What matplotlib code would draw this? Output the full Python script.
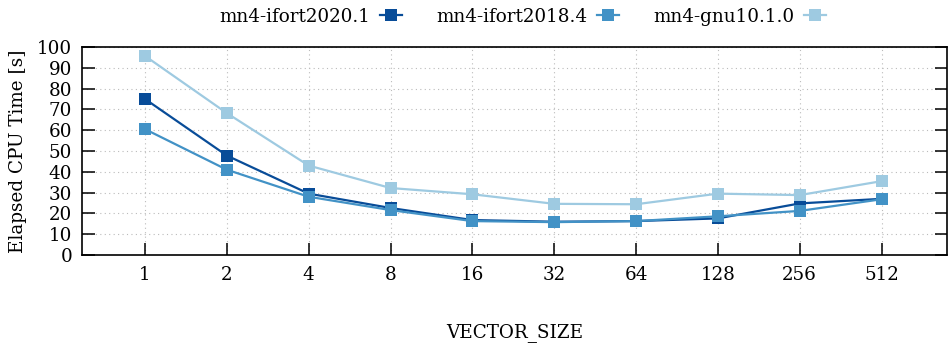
import matplotlib
matplotlib.use("Agg")
import matplotlib.pyplot as plt

vector_sizes = ["1", "2", "4", "8", "16", "32", "64", "128", "256", "512"]
ifort2020 = [75.0, 47.8, 29.5, 22.6, 16.8, 16.0, 16.3, 17.6, 24.8, 27.0]
ifort2018 = [60.5, 41.0, 28.0, 21.6, 16.3, 15.8, 16.3, 18.6, 21.2, 26.8]
gnu10 = [95.7, 68.2, 43.0, 32.2, 29.2, 24.6, 24.4, 29.5, 28.8, 35.5]

series_names = ["mn4-ifort2020.1", "mn4-ifort2018.4", "mn4-gnu10.1.0"]
colors = ["#084c98", "#4292c6", "#9ecae1"]

plt.rcParams["font.family"] = ["DejaVu Serif"]
plt.rcParams["font.size"] = 13.2

fig = plt.figure(figsize=(9.52, 3.48), dpi=100)
ax = fig.add_axes([82 / 952, 1 - 255 / 348, (947 - 82) / 952, (255 - 47) / 348])

x = list(range(len(vector_sizes)))
for vals, name, c in zip([ifort2020, ifort2018, gnu10], series_names, colors):
    ax.plot(x, vals, color=c, lw=1.6, marker="s", markersize=8.2,
            markeredgewidth=0, label=name, zorder=3)

ax.set_xlim(-0.77, 9.80)
ax.set_ylim(0, 100)
ax.set_xticks(x)
ax.set_xticklabels(vector_sizes)
ax.set_yticks(range(0, 101, 10))

ax.grid(True, color="#bbbbbb", lw=0.8, linestyle=(0, (1, 3)))
ax.set_axisbelow(True)

ax.tick_params(axis="y", direction="in", length=9, width=1.1, left=True, right=True, pad=7)
ax.tick_params(axis="x", direction="in", length=9, width=1.1, bottom=True, top=False, pad=8)
for sp in ax.spines.values():
    sp.set_linewidth(1.2)

ax.set_ylabel("Elapsed CPU Time [s]", labelpad=7)
ax.set_xlabel("VECTOR_SIZE", labelpad=28)

leg = fig.legend(loc="upper center", bbox_to_anchor=(0.549, 1.025), ncol=3,
                 frameon=False, markerfirst=False, handlelength=1.2,
                 columnspacing=1.9, handletextpad=0.5)

fig.savefig("out.png", dpi=100)
